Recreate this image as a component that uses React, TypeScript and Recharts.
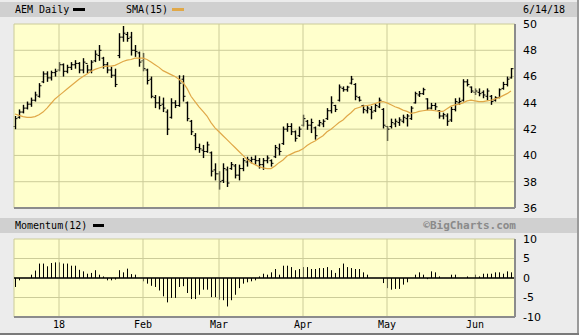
import React from 'react';
import { Bar, CartesianGrid, ComposedChart, Line, ReferenceLine, XAxis, YAxis } from 'recharts';

// Daily bars, Dec 14 2017 .. Jun 14 2018 (125 sessions)
const highs = [
  43.0, 43.5, 43.85, 44.1, 44.4, 44.85, 45.5, 46.4, 46.4, 46.45,
  46.6, 47.1, 47.0, 46.9, 47.1, 47.25, 47.1, 47.4, 46.9, 47.25,
  48.0, 48.4, 47.5, 47.1, 46.75, 46.6, 49.3, 49.85, 49.4, 49.4,
  48.4, 47.9, 47.8, 46.6, 46.0, 44.6, 44.5, 44.4, 43.5, 44.35,
  44.2, 46.1, 46.1, 44.1, 42.7, 41.7, 40.9, 40.8, 41.05, 40.3,
  39.4, 38.8, 39.4, 39.15, 39.5, 39.35, 39.3, 39.8, 39.9, 39.9,
  40.0, 39.8, 39.8, 40.0, 39.7, 40.8, 40.9, 42.2, 42.45, 42.45,
  41.9, 42.2, 43.1, 42.7, 42.8, 42.2, 42.7, 42.75, 43.6, 44.5,
  43.85, 45.4, 45.25, 45.3, 46.05, 45.5, 44.5, 43.85, 43.75, 43.75,
  43.95, 44.4, 43.6, 42.25, 42.8, 42.8, 42.9, 43.1, 43.15, 43.75,
  44.85, 44.9, 45.15, 44.35, 44.0, 44.0, 43.45, 43.25, 43.2, 43.7,
  44.35, 44.4, 45.8, 45.8, 45.25, 45.1, 45.1, 44.95, 45.1, 44.6,
  44.5, 45.1, 45.6, 46.0, 46.65,
];
const lows = [
  42.0, 42.8, 43.2, 43.5, 43.7, 44.1, 44.4, 45.5, 45.6, 45.7,
  46.0, 46.4, 46.0, 46.25, 46.5, 46.6, 46.25, 46.25, 46.25, 46.25,
  47.1, 47.2, 46.6, 46.25, 45.9, 45.2, 47.4, 48.65, 48.65, 47.6,
  47.5, 46.75, 46.4, 45.4, 44.35, 43.6, 43.5, 43.3, 41.55, 42.8,
  43.6, 43.7, 44.1, 42.6, 41.55, 40.4, 40.2, 39.8, 40.2, 38.4,
  38.1, 37.4, 37.9, 37.6, 38.9, 38.25, 38.1, 38.8, 39.15, 39.4,
  39.3, 39.0, 38.9, 39.4, 39.15, 39.8, 40.0, 40.8, 41.8, 41.55,
  41.05, 41.4, 42.2, 41.95, 41.7, 41.2, 42.2, 42.15, 42.7, 43.2,
  43.3, 44.1, 44.85, 44.85, 45.4, 44.2, 44.1, 43.2, 43.2, 42.75,
  43.3, 43.6, 42.05, 41.1, 42.05, 42.15, 42.25, 42.45, 42.2, 42.7,
  43.95, 44.45, 44.6, 43.45, 43.5, 43.45, 42.8, 42.75, 42.25, 42.55,
  43.35, 43.85, 44.1, 45.25, 44.75, 44.6, 44.5, 44.35, 44.2, 43.85,
  44.1, 44.35, 45.0, 45.25, 45.85,
];
const opens = [
  42.2, 42.9, 43.3, 43.6, 43.9, 44.2, 44.5, 45.6, 46.2, 45.9,
  46.3, 46.5, 46.9, 46.4, 46.7, 46.9, 47.0, 46.5, 47.0, 46.5,
  47.2, 47.6, 47.4, 46.9, 46.5, 46.1, 47.6, 49.0, 49.2, 49.0,
  48.0, 47.8, 47.2, 46.5, 45.8, 44.4, 44.0, 43.9, 43.3, 42.9,
  44.0, 43.8, 45.8, 44.0, 42.6, 41.5, 40.6, 40.4, 40.3, 40.2,
  38.9, 38.6, 38.1, 38.9, 39.0, 39.2, 38.5, 39.0, 39.5, 39.6,
  39.7, 39.6, 39.3, 39.6, 39.6, 39.9, 40.5, 40.9, 42.0, 42.2,
  41.8, 41.5, 42.3, 42.6, 42.3, 42.1, 42.3, 42.4, 42.8, 43.4,
  43.8, 44.2, 45.1, 45.0, 45.5, 45.4, 44.4, 43.8, 43.4, 43.5,
  43.4, 43.7, 43.5, 42.2, 42.2, 42.4, 42.5, 42.6, 42.8, 42.8,
  44.0, 44.6, 44.7, 44.3, 43.6, 43.8, 43.4, 43.0, 43.0, 42.7,
  43.5, 44.0, 44.2, 45.6, 45.2, 44.8, 44.8, 44.8, 44.5, 44.5,
  44.2, 44.4, 45.1, 45.4, 45.9,
];
const closes = [
  42.8, 43.3, 43.6, 43.9, 44.2, 44.6, 45.3, 46.2, 45.9, 46.3,
  46.4, 46.9, 46.4, 46.7, 46.9, 47.0, 46.5, 47.1, 46.5, 47.1,
  47.7, 48.0, 46.9, 46.5, 46.1, 45.4, 49.0, 49.3, 48.9, 48.0,
  47.9, 47.1, 46.6, 45.7, 44.5, 44.0, 43.8, 43.6, 42.0, 44.0,
  43.8, 45.5, 44.5, 42.8, 41.8, 40.6, 40.5, 40.3, 40.8, 38.8,
  38.6, 38.0, 39.0, 37.9, 39.3, 38.5, 39.0, 39.6, 39.7, 39.7,
  39.6, 39.3, 39.6, 39.8, 39.4, 40.6, 40.3, 42.0, 42.2, 41.8,
  41.3, 42.0, 42.8, 42.3, 42.5, 41.5, 42.5, 42.6, 43.4, 44.0,
  43.5, 45.2, 45.0, 45.2, 45.8, 44.5, 44.2, 43.5, 43.6, 43.3,
  43.8, 44.2, 42.3, 42.0, 42.5, 42.6, 42.7, 42.9, 43.0, 43.6,
  44.7, 44.7, 45.0, 43.6, 43.8, 43.7, 43.0, 43.1, 42.6, 43.5,
  44.1, 44.1, 45.6, 45.4, 44.9, 44.9, 44.7, 44.6, 44.9, 44.1,
  44.4, 45.0, 45.4, 45.8, 46.6,
];
const sma15 = [
  43.15, 43.05, 42.95, 42.9, 42.9, 42.95, 43.1, 43.3, 43.6, 43.95,
  44.3, 44.55, 44.8, 45.05, 45.3, 45.55, 45.8, 46.0, 46.2, 46.4,
  46.55, 46.65, 46.75, 46.8, 46.8, 46.85, 47.0, 47.15, 47.25, 47.3,
  47.4, 47.4, 47.4, 47.3, 47.1, 46.9, 46.7, 46.45, 46.3, 46.15,
  46.0, 45.8, 45.55, 45.1, 44.5, 44.1, 43.7, 43.35, 43.0, 42.5,
  42.1, 41.8, 41.5, 41.2, 40.9, 40.6, 40.3, 40.0, 39.7, 39.45,
  39.3, 39.15, 39.05, 39.0, 39.0, 39.2, 39.45, 39.65, 39.95, 40.1,
  40.25, 40.35, 40.5, 40.75, 40.95, 41.1, 41.3, 41.5, 41.8, 42.0,
  42.25, 42.5, 42.7, 43.0, 43.25, 43.55, 43.65, 43.75, 43.8, 43.85,
  43.95, 44.05, 44.1, 44.0, 43.85, 43.7, 43.6, 43.45, 43.35, 43.2,
  43.25, 43.35, 43.4, 43.45, 43.45, 43.4, 43.35, 43.35, 43.55, 43.75,
  43.85, 43.9, 44.0, 44.15, 44.2, 44.15, 44.1, 44.1, 44.15, 44.2,
  44.3, 44.4, 44.55, 44.7, 44.9,
];
const momentum12 = [
  -2.3, -0.6, 0, 0, 0.85, 1.9, 3.7, 3.7, 3.0, 3.85,
  4.0, 4.0, 3.7, 3.7, 3.15, 3.15, 2.1, 1.7, 1.1, 1.3,
  2.0, 0.85, 0.4, -0.6, -0.6, -0.4, 2.0, 1.45, 2.4, 1.0,
  0.85, 0, -0.85, -1.45, -2.0, -2.3, -3.2, -4.7, -6.25, -5.1,
  -5.1, -2.3, -2.1, -3.85, -5.4, -5.4, -4.3, -3.0, -3.0, -4.9,
  -4.9, -5.55, -5.7, -7.3, -5.7, -4.3, -2.6, -1.45, -1.1, -0.85,
  -0.6, 0.4, 1.1, 0.85, 1.45, 2.3, 0.85, 3.15, 3.15, 2.8,
  2.0, 2.3, 2.8, 2.8, 2.3, 2.3, 2.55, 2.55, 2.8, 2.0,
  1.3, 2.55, 3.7, 2.8, 2.55, 2.3, 2.3, 1.45, 0.85, 0,
  0, 0, -1.3, -2.6, -3.0, -2.8, -2.8, -1.7, -1.1, 0,
  0.85, 1.45, 0.85, -0.3, 1.7, 1.45, 0.4, 0, 0, 0.85,
  0.85, 0, 0, 0.4, 0, 0.85, 0.4, 1.1, 1.1, 1.1,
  1.45, 1.45, 1.1, 1.7, 1.45,
];

const monthTicks = [11, 32, 51, 72, 93, 115];
const monthLabels = ['18', 'Feb', 'Mar', 'Apr', 'May', 'Jun'];
const priceTicks = [36, 38, 40, 42, 44, 46, 48, 50];
const momTicks = [-10, -5, 0, 5, 10];

const rows = highs.map((h, i) => ({
  i,
  range: [lows[i], h],
  open: opens[i],
  close: closes[i],
  sma: sma15[i],
  mom: momentum12[i],
}));

const GRID = '#cccc99';
const PLOT_BG = '#ffffcc';
const SHADOW = '#8c8c8c';
const SMA_COLOR = '#e0a848';
const mono = '"DejaVu Sans Mono", monospace';

const OhlcShape = (props: any) => {
  const { x, y, width, height, payload } = props;
  const [lo, hi] = payload.range;
  const top = Math.min(y, y + height);
  const h = Math.abs(height);
  const cx = Math.round(x + width / 2) + 0.5;
  const k = hi === lo ? 0 : h / (hi - lo);
  const oy = top + (hi - payload.open) * k;
  const cy = top + (hi - payload.close) * k;
  return (
    <g stroke="#000">
      <line x1={cx} x2={cx} y1={top} y2={top + h} strokeWidth={1.4} />
      <line x1={cx - 2} x2={cx} y1={oy} y2={oy} strokeWidth={1} />
      <line x1={cx} x2={cx + 2} y1={cy} y2={cy} strokeWidth={1} />
    </g>
  );
};

const MomShape = (props: any) => {
  const { x, y, width, height } = props;
  if (!height) return null;
  const cx = Math.round(x + width / 2) + 0.5;
  return <line x1={cx} x2={cx} y1={y} y2={y + height} stroke="#000" strokeWidth={1} />;
};

const axisTick = { fontSize: 11, fill: '#000', fontFamily: '"DejaVu Sans", sans-serif' };

const App: React.FC = () => {
  return (
    <div
      style={{
        position: 'fixed',
        left: 0,
        top: 0,
        width: 579,
        height: 335,
        background: '#ececec',
        overflow: 'hidden',
        fontFamily: mono,
        fontSize: 10,
      }}
    >
      {/* top header strip */}
      <div style={{ position: 'absolute', left: 0, top: 2, width: 577, height: 15, background: '#d0d0d0' }} />
      <div style={{ position: 'absolute', left: 15, top: 3, lineHeight: '13px' }}>AEM Daily</div>
      <div style={{ position: 'absolute', left: 73, top: 8, width: 12, height: 3, background: '#000' }} />
      <div style={{ position: 'absolute', left: 126, top: 3, lineHeight: '13px' }}>SMA(15)</div>
      <div style={{ position: 'absolute', left: 172, top: 8, width: 12, height: 3, background: SMA_COLOR }} />
      <div style={{ position: 'absolute', left: 523, top: 3, lineHeight: '13px' }}>6/14/18</div>

      {/* momentum header strip */}
      <div style={{ position: 'absolute', left: 0, top: 218, width: 577, height: 15, background: '#d0d0d0' }} />
      <div style={{ position: 'absolute', left: 15, top: 219, lineHeight: '13px' }}>Momentum(12)</div>
      <div style={{ position: 'absolute', left: 93, top: 224, width: 11, height: 3, background: '#000' }} />
      <div
        style={{
          position: 'absolute',
          right: 579 - 516,
          top: 219,
          lineHeight: '13px',
          fontWeight: 'bold',
          fontSize: 11,
          color: '#8a8a8a',
        }}
      >
        ©BigCharts.com
      </div>

      {/* outer frame edges */}
      <div style={{ position: 'absolute', left: 577, top: 0, width: 2, height: 335, background: '#9a9a9a' }} />
      <div style={{ position: 'absolute', left: 0, top: 333, width: 579, height: 2, background: '#7a7a7a' }} />

      <div style={{ position: 'absolute', left: 0, top: 0 }}>
        <ComposedChart width={579} height={215} data={rows} margin={{ top: 24, right: 0, bottom: 7, left: 14 }}>
          <CartesianGrid fill={PLOT_BG} stroke={GRID} vertical={false} />
          <XAxis type="number" dataKey="i" domain={[-0.25, 125]} hide />
          <YAxis
            orientation="right"
            domain={[36, 50]}
            ticks={priceTicks}
            interval={0}
            width={64}
            axisLine={false}
            tickLine={false}
            tick={axisTick}
          />
          {monthTicks.map((t) => (
            <ReferenceLine key={t} x={t} stroke={GRID} />
          ))}
          <ReferenceLine x={-0.25} stroke={GRID} />
          <Bar dataKey="range" barSize={3} shape={<OhlcShape />} isAnimationActive={false} />
          <Line
            dataKey="sma"
            type="linear"
            stroke={SMA_COLOR}
            strokeWidth={1.2}
            dot={false}
            activeDot={false}
            isAnimationActive={false}
          />
          <ReferenceLine y={36} stroke={SHADOW} strokeWidth={2} />
          <ReferenceLine x={125} stroke={SHADOW} strokeWidth={2} />
        </ComposedChart>
      </div>

      <div style={{ position: 'absolute', left: 0, top: 215 }}>
        <ComposedChart width={579} height={120} data={rows} margin={{ top: 24, right: 0, bottom: 0, left: 14 }}>
          <CartesianGrid fill={PLOT_BG} stroke={GRID} vertical={false} />
          <XAxis
            type="number"
            dataKey="i"
            domain={[-0.25, 125]}
            ticks={monthTicks}
            interval={0}
            tickFormatter={(v: number) => monthLabels[monthTicks.indexOf(v)]}
            height={18}
            axisLine={false}
            tickLine={false}
            tickSize={0}
            tickMargin={4}
            tick={{ fontSize: 10, fill: '#000', fontFamily: mono }}
          />
          <YAxis
            orientation="right"
            domain={[-10, 10]}
            ticks={momTicks}
            interval={0}
            width={64}
            axisLine={false}
            tickLine={false}
            tick={axisTick}
          />
          {monthTicks.map((t) => (
            <ReferenceLine key={t} x={t} stroke={GRID} />
          ))}
          <ReferenceLine x={-0.25} stroke={GRID} />
          <Bar dataKey="mom" barSize={1} shape={<MomShape />} isAnimationActive={false} />
          <ReferenceLine y={0} stroke="#000" strokeWidth={1.5} />
          <ReferenceLine y={-10} stroke={SHADOW} strokeWidth={2} />
          <ReferenceLine x={125} stroke={SHADOW} strokeWidth={2} />
        </ComposedChart>
      </div>
    </div>
  );
};

export default App;
